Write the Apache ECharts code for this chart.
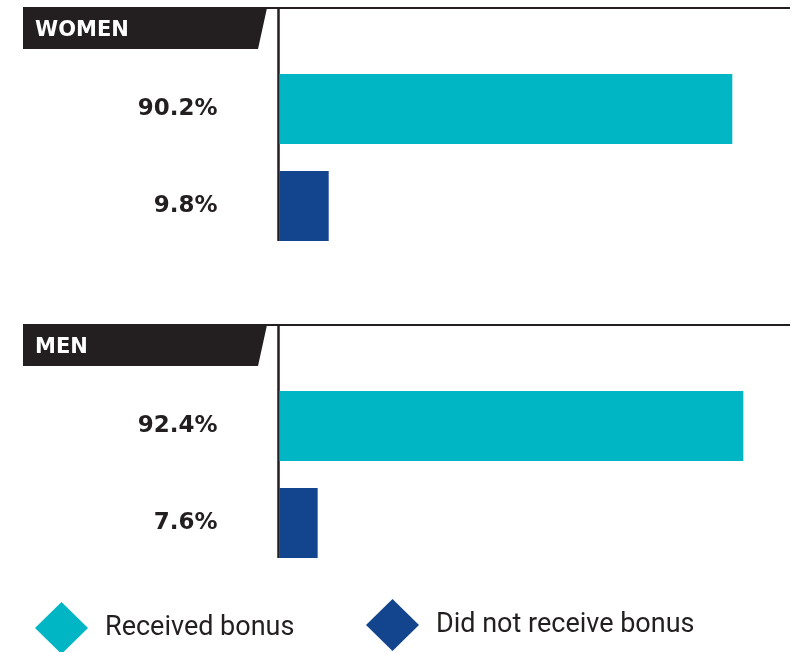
<!DOCTYPE html>
<html>
<head>
<meta charset="utf-8">
<script src="https://cdn.jsdelivr.net/npm/echarts@6/dist/echarts.min.js"></script>
<style>
html,body{margin:0;padding:0;background:#fff;}
#main{width:798px;height:652px;}
</style>
</head>
<body>
<div id="main"></div>
<script>
const panels = ['WOMEN', 'MEN'];
const received = [90.2, 92.4];
const notReceived = [9.8, 7.6];
const seriesNames = ['Received bonus', 'Did not receive bonus'];
const colors = ['#00B6C5', '#13448E'];

const ink = '#231F20';
const chart = echarts.init(document.getElementById('main'));

const gridTops = [60.5, 377.5];
const headerTops = [8, 325];
const axisBottoms = [241, 558];

const grids = [], xAxes = [], yAxes = [], series = [], graphics = [];
panels.forEach((p, i) => {
  grids.push({left: 279.5, top: gridTops[i], width: 502, height: 194});
  xAxes.push({type: 'value', gridIndex: i, min: 0, max: 100, show: false});
  yAxes.push({
    type: 'category', gridIndex: i, inverse: true,
    data: [received[i].toFixed(1) + '%', notReceived[i].toFixed(1) + '%'],
    axisLine: {show: false}, axisTick: {show: false}, splitLine: {show: false},
    axisLabel: {margin: 62, fontFamily: 'DejaVu Sans', fontWeight: 'bold', fontSize: 23, color: ink}
  });
  series.push({
    name: seriesNames[0], type: 'bar', xAxisIndex: i, yAxisIndex: i,
    data: [received[i], '-'], barWidth: 70, barGap: '-100%',
    itemStyle: {color: colors[0]}, silent: true
  });
  series.push({
    name: seriesNames[1], type: 'bar', xAxisIndex: i, yAxisIndex: i,
    data: ['-', notReceived[i]], barWidth: 70, barGap: '-100%',
    itemStyle: {color: colors[1]}, silent: true
  });
  const t = headerTops[i];
  graphics.push({type: 'line', shape: {x1: 23, y1: t, x2: 790, y2: t}, style: {stroke: ink, lineWidth: 2}});
  graphics.push({type: 'polygon', shape: {points: [[23, t], [267, t], [258, t + 41], [23, t + 41]]}, style: {fill: ink}});
  graphics.push({type: 'text', x: 35, y: t + 23, style: {text: p, fill: '#fff', font: 'bold 21px "DejaVu Sans"', textVerticalAlign: 'middle'}});
  graphics.push({type: 'line', shape: {x1: 278.5, y1: t, x2: 278.5, y2: axisBottoms[i]}, style: {stroke: ink, lineWidth: 2.5}});
});

const legendBase = {
  orient: 'horizontal', icon: 'diamond', itemWidth: 53, itemHeight: 52, padding: 0,
  selectedMode: false,
  textStyle: {fontFamily: 'Roboto', fontSize: 27, color: ink, padding: [0, 0, 0, 12]}
};

chart.setOption({
  animation: false,
  grid: grids,
  xAxis: xAxes,
  yAxis: yAxes,
  series: series,
  legend: [
    Object.assign({}, legendBase, {data: [seriesNames[0]], left: 35, top: 602}),
    Object.assign({}, legendBase, {data: [seriesNames[1]], left: 366, top: 599})
  ],
  graphic: graphics
});
</script>
</body>
</html>
